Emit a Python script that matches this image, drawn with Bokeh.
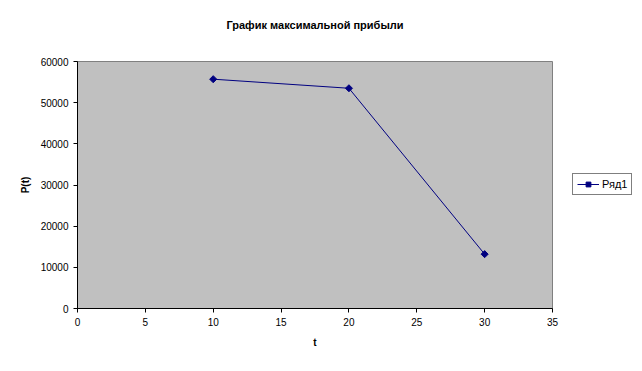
import math
from bokeh.plotting import figure
from bokeh.models import Legend, LegendItem, FixedTicker, Range1d
from bokeh.embed import file_html
from bokeh.resources import INLINE

# data
t_values = [10, 20, 30]
profit_values = [55700, 53500, 13200]
series_name = "Ряд1"
title_text = "График максимальной прибыли"
x_label = "t"
y_label = "P(t)"
x_ticks = [0, 5, 10, 15, 20, 25, 30, 35]
y_ticks = [0, 10000, 20000, 30000, 40000, 50000, 60000]

FONT = "Liberation Sans"
NAVY = "#000080"

p = figure(frame_width=475, frame_height=247, output_backend="svg", toolbar_location=None,
           x_range=Range1d(0, 35), y_range=Range1d(0, 60000),
           min_border_left=77, min_border_right=90, min_border_top=61, min_border_bottom=63)
p.background_fill_color = "#C0C0C0"
p.border_fill_color = "white"
p.outline_line_color = "#808080"
p.outline_line_width = 1
p.xgrid.visible = False
p.ygrid.visible = False

p.title.text = title_text
p.title.text_font = FONT
p.title.text_font_size = "11px"
p.title.text_font_style = "bold"
p.title.text_color = "black"
p.title.align = "center"
p.title.offset = 7
p.title.standoff = 10
p.title.padding = dict(left=0, right=0, top=0, bottom=26)

for ax in (p.xaxis[0], p.yaxis[0]):
    ax.axis_line_color = "black"
    ax.major_tick_line_color = "black"
    ax.minor_tick_line_color = None
    ax.major_tick_in = 0
    ax.major_tick_out = 4
    ax.major_label_text_font = FONT
    ax.major_label_text_font_size = "10px"
    ax.major_label_text_color = "black"
    ax.axis_label_text_font = FONT
    ax.axis_label_text_font_size = "10px"
    ax.axis_label_text_font_style = "bold"
    ax.axis_label_text_color = "black"

p.xaxis[0].ticker = FixedTicker(ticks=x_ticks)
p.yaxis[0].ticker = FixedTicker(ticks=y_ticks)
p.xaxis[0].axis_label = x_label
p.yaxis[0].axis_label = y_label
p.xaxis[0].major_label_standoff = 5
p.yaxis[0].major_label_standoff = 5
p.xaxis[0].axis_label_standoff = 8
p.yaxis[0].axis_label_standoff = 7

r_line = p.line(t_values, profit_values, line_color=NAVY, line_width=1)
r_pts = p.scatter(t_values, profit_values, marker="square", size=5, angle=math.pi / 4,
                  fill_color=NAVY, line_color=NAVY)

legend = Legend(items=[LegendItem(label=series_name, renderers=[r_line, r_pts])],
                location=(20, 113))
legend.label_text_font = FONT
legend.label_text_font_size = "11px"
legend.label_text_color = "black"
legend.border_line_color = "black"
legend.border_line_width = 1
legend.background_fill_color = "white"
legend.background_fill_alpha = 1
legend.padding = 4
legend.margin = 0
legend.glyph_width = 22
legend.glyph_height = 12
legend.label_standoff = 3
legend.spacing = 0
legend.label_height = 12
p.add_layout(legend, "right")

open("out.html", "w").write(file_html(p, INLINE))
